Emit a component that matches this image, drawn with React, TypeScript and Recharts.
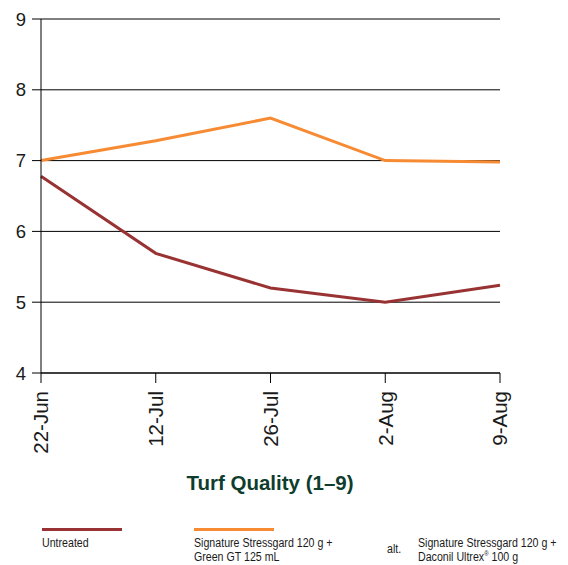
import React from 'react';
import { LineChart, Line, XAxis, YAxis, CartesianGrid } from 'recharts';

const categories = ['22-Jun', '12-Jul', '26-Jul', '2-Aug', '9-Aug'];
const untreated = [6.78, 5.69, 5.2, 5.0, 5.24];
const stressgard = [7.0, 7.28, 7.6, 7.0, 6.98];
const yTicks = [4, 5, 6, 7, 8, 9];

const data = categories.map((c, i) => ({ date: c, untreated: untreated[i], stressgard: stressgard[i] }));

const MAROON = '#993333';
const ORANGE = '#f68b33';
const GREEN = '#0e3d2d';
const TXT = '#1a1a1a';

const XTick = (props: any) => {
  const { x, y, payload } = props;
  return (
    <text
      x={x}
      y={y}
      transform={`rotate(-90, ${x}, ${y})`}
      textAnchor="end"
      dy="0.36em"
      fontSize={20.5}
      fill={TXT}
      fontFamily="'Liberation Sans', Arial, sans-serif"
    >
      {payload.value}
    </text>
  );
};

const legendText: React.CSSProperties = {
  position: 'absolute',
  fontFamily: "'Liberation Sans', Arial, sans-serif",
  fontSize: 12.5,
  lineHeight: '14.5px',
  color: TXT,
  whiteSpace: 'nowrap',
  transform: 'scaleX(0.85)',
  transformOrigin: '0 0',
};

export default function App() {
  return (
    <div style={{ position: 'absolute', left: 0, top: 0, width: 568, height: 565, background: '#fff', overflow: 'hidden' }}>
      <LineChart width={568} height={565} data={data} margin={{ top: 19, right: 68, left: 0, bottom: 112 }}>
        <CartesianGrid vertical={false} stroke="#000" strokeWidth={1} strokeDasharray="" />
        <XAxis
          dataKey="date"
          height={80}
          axisLine={{ stroke: '#000' }}
          tickLine={{ stroke: '#000' }}
          tickSize={10}
          tickMargin={8}
          interval={0}
          tick={<XTick />}
        />
        <YAxis
          domain={[4, 9]}
          ticks={yTicks}
          width={41}
          axisLine={{ stroke: '#000' }}
          tickLine={{ stroke: '#000' }}
          tickSize={9}
          tickMargin={6}
          tick={{ fontSize: 18.5, fill: TXT, fontFamily: "'Liberation Sans', Arial, sans-serif" }}
          interval={0}
        />
        <Line type="linear" dataKey="stressgard" stroke={ORANGE} strokeWidth={3} dot={false} isAnimationActive={false} />
        <Line type="linear" dataKey="untreated" stroke={MAROON} strokeWidth={3} dot={false} isAnimationActive={false} />
      </LineChart>
      <div
        style={{
          position: 'absolute',
          left: 0,
          width: 540,
          top: 471,
          textAlign: 'center',
          fontFamily: "'Liberation Sans', Arial, sans-serif",
          fontWeight: 'bold',
          fontSize: 20.5,
          color: GREEN,
        }}
      >
        Turf Quality (1–9)
      </div>
      <div style={{ position: 'absolute', left: 42, top: 527.5, width: 80, height: 3.5, background: MAROON }} />
      <div style={{ position: 'absolute', left: 194, top: 527.5, width: 80, height: 3.5, background: ORANGE }} />
      <div style={{ ...legendText, left: 42, top: 535.5 }}>Untreated</div>
      <div style={{ ...legendText, left: 194, top: 535.5 }}>
        Signature Stressgard 120 g +<br />Green GT 125 mL
      </div>
      <div style={{ ...legendText, left: 387, top: 542 }}>alt.</div>
      <div style={{ ...legendText, left: 418, top: 535.5 }}>
        Signature Stressgard 120 g +<br />Daconil Ultrex<sup style={{ fontSize: 7, lineHeight: 0 }}>®</sup> 100 g
      </div>
    </div>
  );
}
